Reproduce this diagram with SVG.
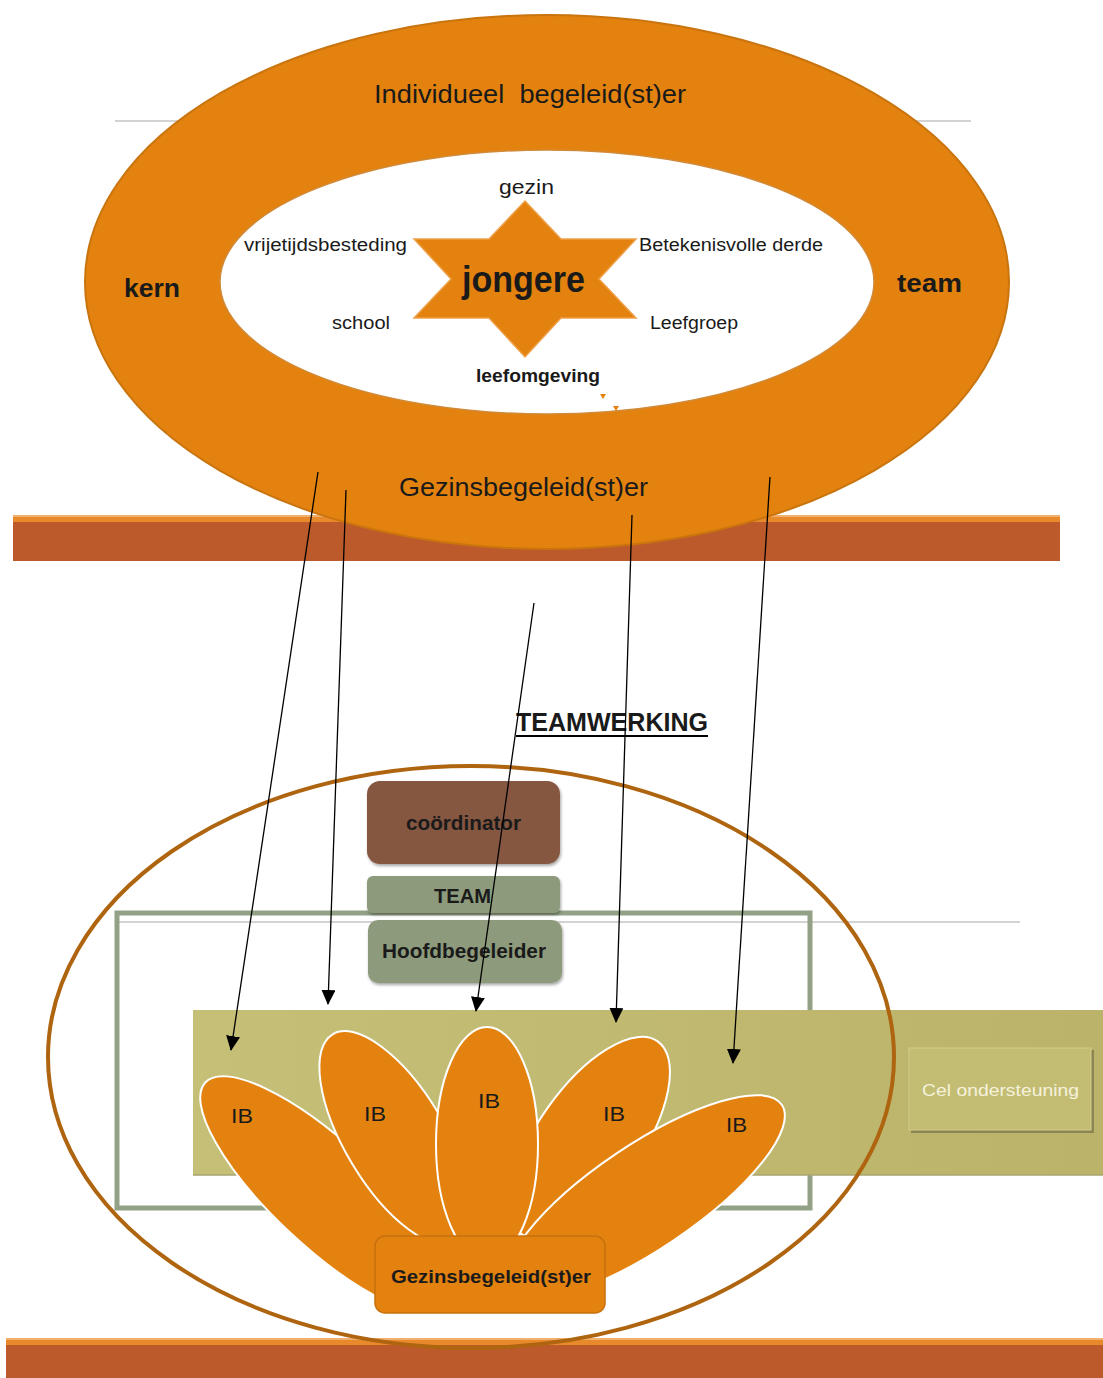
<svg xmlns="http://www.w3.org/2000/svg" width="1103" height="1378" viewBox="0 0 1103 1378">
<style>
  .t { font-family: "Liberation Sans", Arial, sans-serif; fill: #1a1a1a; }
  .b { font-weight: bold; }
  .petal { fill: #E3820F; stroke: #FFFFFF; stroke-width: 2; }
  .conn { stroke: #000; stroke-width: 1.3; fill: none; marker-end: url(#ah); }
  .grey { stroke: #C4C4C4; stroke-width: 1.5; }
</style>
<defs>
  <marker id="ah" viewBox="0 0 15 14" refX="14" refY="7" markerWidth="15" markerHeight="14" markerUnits="userSpaceOnUse" orient="auto">
    <path d="M0,0 L15,7 L0,14 z" fill="#000"/>
  </marker>
  <linearGradient id="olive" x1="0" y1="0" x2="1" y2="0">
    <stop offset="0" stop-color="#C5BF77"/>
    <stop offset="1" stop-color="#BCB36A"/>
  </linearGradient>
  <filter id="sh" x="-10%" y="-10%" width="130%" height="140%">
    <feDropShadow dx="1" dy="2" stdDeviation="1.5" flood-color="#000" flood-opacity="0.35"/>
  </filter>
</defs>

<!-- top section -->
<line class="grey" x1="115" y1="121" x2="971" y2="121"/>
<g id="bar-top">
  <rect x="13" y="515" width="1047" height="46" fill="#BD5A2C"/>
  <rect x="13" y="515" width="1047" height="7" fill="#E8892C"/>
  <rect x="13" y="515" width="1047" height="2" fill="#F2B070"/>
</g>
<g id="ring">
  <ellipse cx="547" cy="282" rx="462" ry="267" fill="#E3820F" stroke="#C9740E" stroke-width="2"/>
  <ellipse cx="547" cy="282" rx="327" ry="132" fill="#FFFFFF" stroke="#D08A3A" stroke-width="1.5"/>
  <text class="t" x="374" y="103" font-size="25" xml:space="preserve" textLength="312" lengthAdjust="spacingAndGlyphs">Individueel  begeleid(st)er</text>
  <text class="t b" x="124" y="297" font-size="25" textLength="56" lengthAdjust="spacingAndGlyphs">kern</text>
  <text class="t b" x="897" y="292" font-size="25" textLength="65" lengthAdjust="spacingAndGlyphs">team</text>
  <text class="t" x="399" y="496" font-size="26" textLength="249" lengthAdjust="spacingAndGlyphs">Gezinsbegeleid(st)er</text>
</g>
<g id="jongere">
  <polygon points="525,201 561,239 636,239 599,279 636,318 561,318 525,357 489,318 414,318 451,279 414,239 489,239" fill="#E3820F" stroke="#EFA04A" stroke-width="1.5"/>
  <text class="t b" x="462" y="292" font-size="37" textLength="123" lengthAdjust="spacingAndGlyphs">jongere</text>
</g>
<g id="context">
  <text class="t" x="499" y="194" font-size="21" textLength="55" lengthAdjust="spacingAndGlyphs">gezin</text>
  <text class="t" x="244" y="251" font-size="18" textLength="163" lengthAdjust="spacingAndGlyphs">vrijetijdsbesteding</text>
  <text class="t" x="639" y="251" font-size="18" textLength="184" lengthAdjust="spacingAndGlyphs">Betekenisvolle derde</text>
  <text class="t" x="332" y="329" font-size="18" textLength="58" lengthAdjust="spacingAndGlyphs">school</text>
  <text class="t" x="650" y="329" font-size="18" textLength="88" lengthAdjust="spacingAndGlyphs">Leefgroep</text>
  <text class="t b" x="476" y="382" font-size="18" textLength="124" lengthAdjust="spacingAndGlyphs">leefomgeving</text>
  <polygon points="600,394 606,394 603,399" fill="#E3820F"/>
  <polygon points="613,406 619,406 616,411" fill="#E3820F"/>
</g>

<!-- bottom section -->
<g id="teamwerking">
  <text class="t b" x="516" y="731" font-size="25" textLength="192" lengthAdjust="spacingAndGlyphs">TEAMWERKING</text>
  <line x1="516" y1="736" x2="708" y2="736" stroke="#000" stroke-width="2.2"/>
</g>
<g id="bar-bottom">
  <rect x="6" y="1338" width="1097" height="40" fill="#BD5A2C"/>
  <rect x="6" y="1338" width="1097" height="7" fill="#E8892C"/>
  <rect x="6" y="1338" width="1097" height="2" fill="#F2B070"/>
</g>
<line class="grey" x1="117" y1="922" x2="1020" y2="922"/>
<rect id="team-frame" x="117" y="913" width="693" height="295" fill="none" stroke="#93A186" stroke-width="5"/>
<g id="cel-band">
  <rect x="193" y="1010" width="910" height="165" fill="url(#olive)"/>
  <line x1="193" y1="1175" x2="1103" y2="1175" stroke="#A9A470" stroke-width="1.5"/>
</g>
<ellipse id="team-circle" cx="471" cy="1057" rx="423" ry="291" fill="none" stroke="#AF6510" stroke-width="4"/>
<g id="cel-ondersteuning">
  <rect x="911" y="1050" width="183" height="83" fill="#8C8652"/>
  <rect x="909" y="1048" width="182" height="82" fill="#C3BD74" stroke="#D2CC8A" stroke-width="1"/>
  <text class="t" x="922" y="1096" font-size="17" style="fill:#F5F2DC" textLength="157" lengthAdjust="spacingAndGlyphs">Cel ondersteuning</text>
</g>
<g id="coordinator">
  <rect x="367" y="781" width="193" height="83" rx="13" fill="#855640" filter="url(#sh)"/>
  <text class="t b" x="406" y="830" font-size="20" textLength="115" lengthAdjust="spacingAndGlyphs">coördinator</text>
</g>
<g id="team">
  <rect x="367" y="876" width="193" height="37" rx="6" fill="#8D9B7B" filter="url(#sh)"/>
  <text class="t b" x="434" y="903" font-size="20" textLength="57" lengthAdjust="spacingAndGlyphs">TEAM</text>
</g>
<g id="hoofdbegeleider">
  <rect x="368" y="920" width="194" height="63" rx="10" fill="#8D9B7B" filter="url(#sh)"/>
  <text class="t b" x="382" y="958" font-size="20" textLength="164" lengthAdjust="spacingAndGlyphs">Hoofdbegeleider</text>
</g>
<g id="ib1">
  <ellipse class="petal" cx="326" cy="1195" rx="165" ry="52" transform="rotate(43 326 1195)"/>
  <text class="t" x="231" y="1123" font-size="21" textLength="22" lengthAdjust="spacingAndGlyphs">IB</text>
</g>
<g id="ib2">
  <ellipse class="petal" cx="395" cy="1138" rx="121" ry="50" transform="rotate(59 395 1138)"/>
  <text class="t" x="364" y="1121" font-size="21" textLength="22" lengthAdjust="spacingAndGlyphs">IB</text>
</g>
<g id="ib4">
  <ellipse class="petal" cx="590" cy="1138" rx="118" ry="52" transform="rotate(-55 590 1138)"/>
  <text class="t" x="603" y="1121" font-size="21" textLength="22" lengthAdjust="spacingAndGlyphs">IB</text>
</g>
<g id="ib5">
  <ellipse class="petal" cx="645" cy="1197" rx="165" ry="52" transform="rotate(-34 645 1197)"/>
  <text class="t" x="726" y="1132" font-size="21" textLength="21" lengthAdjust="spacingAndGlyphs">IB</text>
</g>
<g id="ib3">
  <ellipse class="petal" cx="487" cy="1144" rx="51" ry="117"/>
  <text class="t" x="478" y="1108" font-size="21" textLength="22" lengthAdjust="spacingAndGlyphs">IB</text>
</g>
<g id="gezinsbegeleider">
  <rect x="375" y="1236" width="230" height="77" rx="10" fill="#E3820F" stroke="#C8700E" stroke-width="1.5"/>
  <text class="t b" x="391" y="1283" font-size="18" textLength="200" lengthAdjust="spacingAndGlyphs">Gezinsbegeleid(st)er</text>
</g>

<g id="connectors">
  <line class="conn" x1="318" y1="472" x2="231" y2="1050"/>
  <line class="conn" x1="346" y1="490" x2="328" y2="1004"/>
  <line class="conn" x1="534" y1="603" x2="476" y2="1011"/>
  <line class="conn" x1="632" y1="515" x2="616" y2="1022"/>
  <line class="conn" x1="770" y1="477" x2="733" y2="1063"/>
</g>
</svg>
